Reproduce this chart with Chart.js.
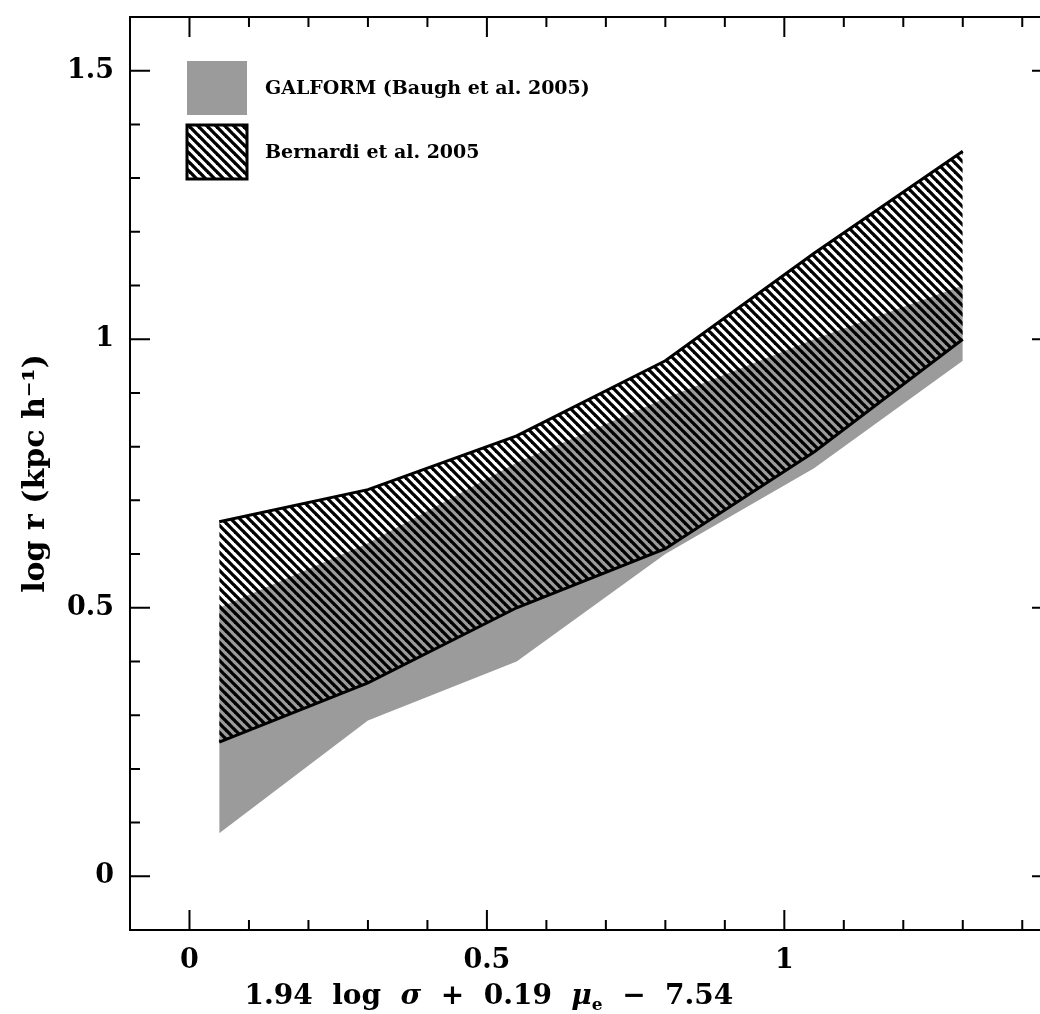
<!DOCTYPE html>
<html>
<head>
<meta charset="utf-8">
<script src="https://cdn.jsdelivr.net/npm/chart.js@4.4.1/dist/chart.umd.min.js"></script>
<style>
html, body { margin: 0; padding: 0; background: #fff; overflow: hidden; }
#wrap { width: 1052px; height: 1014px; }
</style>
</head>
<body>
<div id="wrap"><canvas id="c" width="1052" height="1014"></canvas></div>
<script>
// ---- data ----
const xValues = [0.05, 0.3, 0.55, 0.8, 1.05, 1.3];
const galformUpper = [0.50, 0.62, 0.77, 0.89, 1.00, 1.10];
const galformLower = [0.08, 0.29, 0.40, 0.60, 0.76, 0.96];
const bernardiUpper = [0.66, 0.72, 0.82, 0.96, 1.16, 1.35];
const bernardiLower = [0.25, 0.36, 0.50, 0.61, 0.79, 1.00];
const seriesLabels = ['GALFORM (Baugh et al. 2005)', 'Bernardi et al. 2005'];
const xTickLabels = ['0', '0.5', '1'];
const yTickLabels = ['0', '0.5', '1', '1.5'];
// x title pieces: [text, style] style: n = normal, i = italic, s = subscript
const xTitleParts = [['1.94  log  ', 'n'], ['\u03C3', 'i'], ['  +  0.19  ', 'n'], ['\u03BC', 'i'], ['e', 's'], ['  \u2212  7.54', 'n']];
const yTitle = 'log r (kpc h\u207B\u00B9)';

const FONT = "'DejaVu Serif', serif";
const GREY = '#9b9b9b';

function pts(ys) { return xValues.map((x, i) => ({ x: x, y: ys[i] })); }

function makeHatch() {
  const s = 9;
  const c = document.createElement('canvas');
  c.width = s; c.height = s;
  const g = c.getContext('2d');
  g.strokeStyle = '#000';
  g.lineWidth = 3.3;
  g.lineCap = 'square';
  for (let k = -1; k <= 1; k++) {
    g.beginPath();
    g.moveTo(k * s - 1, -1);
    g.lineTo(k * s + s + 1, s + 1);
    g.stroke();
  }
  return g.createPattern(c, 'repeat');
}
const hatch = makeHatch();

function stepTicks(min, max) {
  const out = [];
  for (let i = Math.round(min * 10); i <= Math.round(max * 10); i++) out.push({ value: i / 10 });
  return out;
}
function isMajor(v) { return Math.abs(v * 2 - Math.round(v * 2)) < 1e-6; }
function labelFor(v, list) {
  const s = String(Math.round(v * 10) / 10);
  return list.includes(s) ? s : '';
}

const frame = {
  id: 'frame',
  afterDraw(chart) {
    const { ctx, chartArea: a, scales: { x, y } } = chart;
    ctx.save();
    ctx.strokeStyle = '#000';
    ctx.lineWidth = 2;
    ctx.strokeRect(a.left, a.top, a.right - a.left, a.bottom - a.top);
    x.ticks.forEach(t => {
      const px = x.getPixelForValue(t.value);
      const L = isMajor(t.value) ? 20 : 10;
      ctx.beginPath();
      ctx.moveTo(px, a.bottom); ctx.lineTo(px, a.bottom - L);
      ctx.moveTo(px, a.top); ctx.lineTo(px, a.top + L);
      ctx.stroke();
    });
    y.ticks.forEach(t => {
      const py = y.getPixelForValue(t.value);
      const L = isMajor(t.value) ? 20 : 10;
      ctx.beginPath();
      ctx.moveTo(a.left, py); ctx.lineTo(a.left + L, py);
      ctx.moveTo(a.right, py); ctx.lineTo(a.right - L, py);
      ctx.stroke();
    });
    // legend
    const fills = [GREY, hatch];
    const bx = 187, bw = 60, bh = 54;
    const tops = [61, 125];
    ctx.font = "bold 19px " + FONT;
    ctx.textBaseline = 'middle';
    ctx.textAlign = 'left';
    seriesLabels.forEach((lab, i) => {
      ctx.fillStyle = fills[i];
      ctx.fillRect(bx, tops[i], bw, bh);
      if (i === 1) {
        ctx.lineWidth = 3;
        ctx.strokeStyle = '#000';
        ctx.strokeRect(bx, tops[i], bw, bh);
      }
      ctx.fillStyle = '#000';
      ctx.fillText(lab, 265, tops[i] + bh / 2 + 1);
    });
    // x axis title with subscript, centred under x = 0.5
    const fonts = { n: "bold 28px " + FONT, i: "italic bold 28px " + FONT, s: "bold 17px " + FONT };
    ctx.textBaseline = 'alphabetic';
    let total = 0;
    const widths = xTitleParts.map(([t, st]) => { ctx.font = fonts[st]; const w = ctx.measureText(t).width; total += w; return w; });
    let cx = x.getPixelForValue(0.5) + 2 - total / 2;
    const base = 1004;
    xTitleParts.forEach(([t, st], i) => {
      ctx.font = fonts[st];
      ctx.fillText(t, cx, st === 's' ? base + 6 : base);
      cx += widths[i];
    });
    ctx.restore();
  }
};

new Chart(document.getElementById('c'), {
  type: 'line',
  data: {
    datasets: [
      { label: seriesLabels[0], data: pts(galformUpper), fill: '+1', backgroundColor: GREY,
        borderWidth: 0, borderColor: 'rgba(0,0,0,0)', pointRadius: 0, tension: 0, order: 2 },
      { label: seriesLabels[0] + ' lower', data: pts(galformLower), fill: false,
        borderWidth: 0, borderColor: 'rgba(0,0,0,0)', pointRadius: 0, tension: 0, order: 2 },
      { label: seriesLabels[1], data: pts(bernardiUpper), fill: '+1', backgroundColor: hatch,
        borderWidth: 3, borderColor: '#000', pointRadius: 0, tension: 0, order: 1 },
      { label: seriesLabels[1] + ' lower', data: pts(bernardiLower), fill: false,
        borderWidth: 3, borderColor: '#000', pointRadius: 0, tension: 0, order: 1 }
    ]
  },
  options: {
    responsive: false,
    animation: false,
    devicePixelRatio: 1,
    layout: { padding: { top: 17, right: 0, left: 0, bottom: 0 } },
    plugins: { legend: { display: false }, tooltip: { enabled: false } },
    scales: {
      x: {
        type: 'linear', min: -0.1, max: 1.45,
        grid: { display: false, drawTicks: false }, border: { display: false },
        afterBuildTicks: s => { s.ticks = stepTicks(-0.1, 1.4); },
        afterFit: s => { s.height = 84; s.paddingLeft = 0; s.paddingRight = 0; },
        ticks: { autoSkip: false, maxRotation: 0, padding: 15, color: '#000',
          font: { family: FONT, size: 27, weight: 'bold' },
          callback: v => labelFor(v, xTickLabels) },
        title: { display: false }
      },
      y: {
        type: 'linear', min: -0.1, max: 1.6,
        grid: { display: false, drawTicks: false }, border: { display: false },
        afterBuildTicks: s => { s.ticks = stepTicks(-0.1, 1.6); },
        afterFit: s => { s.width = 130; s.paddingTop = 0; s.paddingBottom = 0; },
        ticks: { autoSkip: false, padding: 16, color: '#000',
          font: { family: FONT, size: 27, weight: 'bold' },
          callback: v => labelFor(v, yTickLabels) },
        title: { display: true, text: yTitle, color: '#000', padding: { top: 18, bottom: 0 },
          font: { family: FONT, size: 30, weight: 'bold' } }
      }
    }
  },
  plugins: [frame]
});
</script>
</body>
</html>
